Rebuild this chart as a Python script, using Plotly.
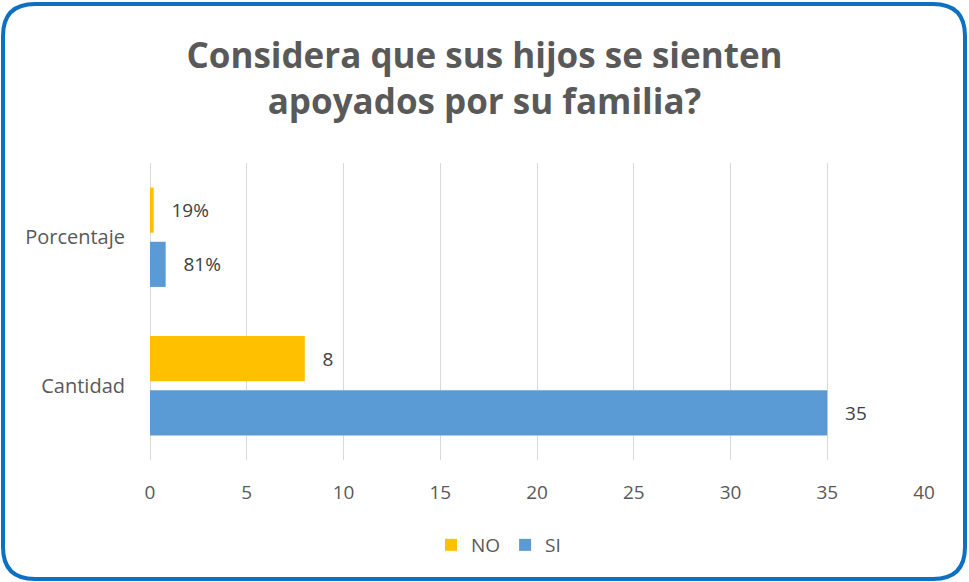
import plotly.graph_objects as go

categories = ["Cantidad", "Porcentaje"]
si_values = [35, 0.81]
no_values = [8, 0.19]
si_labels = ["35", "81%"]
no_labels = ["8", "19%"]
x_ticks = [0, 5, 10, 15, 20, 25, 30, 35, 40]

FONT = "Open Sans"
L, R, T, B = 150, 45, 163, 122
W, H = 969, 582
PW, PH = W - L - R, H - T - B

def px(x):
    return (x - L) / PW

def py(y):
    return (H - B - y) / PH

PAD = "   "

fig = go.Figure()
fig.add_trace(go.Bar(
    y=categories, x=si_values, orientation="h", name="SI",
    marker=dict(color="#5B9BD5", line=dict(width=0)),
    text=[PAD + s for s in si_labels], textposition="outside",
    textfont=dict(size=19, color="#404040", family=FONT),
    cliponaxis=False,
))
fig.add_trace(go.Bar(
    y=categories, x=no_values, orientation="h", name="NO",
    marker=dict(color="#FFC000", line=dict(width=0)),
    text=[PAD + s for s in no_labels], textposition="outside",
    textfont=dict(size=19, color="#404040", family=FONT),
    cliponaxis=False,
))

# rounded border
x0, x1, y0, y1, r = 3, 965, 4, 579, 32
path = (f"M {px(x0 + r)},{py(y0)} L {px(x1 - r)},{py(y0)} "
        f"Q {px(x1)},{py(y0)} {px(x1)},{py(y0 + r)} "
        f"L {px(x1)},{py(y1 - r)} Q {px(x1)},{py(y1)} {px(x1 - r)},{py(y1)} "
        f"L {px(x0 + r)},{py(y1)} Q {px(x0)},{py(y1)} {px(x0)},{py(y1 - r)} "
        f"L {px(x0)},{py(y0 + r)} Q {px(x0)},{py(y0)} {px(x0 + r)},{py(y0)} Z")

fig.update_layout(
    width=W, height=H,
    margin=dict(l=L, r=R, t=T, b=B),
    paper_bgcolor="white", plot_bgcolor="white",
    barmode="group", bargap=0.27, bargroupgap=0.167,
    title=dict(
        text="Considera que sus hijos se sienten<br>apoyados por su familia?",
        x=0.5, xanchor="center", y=1 - 68 / H, yanchor="middle",
        font=dict(family=FONT, size=35, color="#595959", weight="bold"),
    ),
    xaxis=dict(
        range=[0, 40], tickvals=x_ticks, showgrid=True, gridcolor="#D9D9D9",
        gridwidth=1, zeroline=True, zerolinecolor="#D9D9D9", zerolinewidth=1,
        ticks="outside", ticklen=15, tickcolor="rgba(0,0,0,0)",
        tickfont=dict(family=FONT, size=19, color="#595959"),
        showline=False, fixedrange=True,
    ),
    yaxis=dict(
        ticks="outside", ticklen=20, tickcolor="rgba(0,0,0,0)",
        tickfont=dict(family=FONT, size=20, color="#595959"),
        showgrid=False, showline=False,
    ),
    legend=dict(
        orientation="h", x=px(431), xanchor="left", y=py(545), yanchor="middle",
        traceorder="reversed", font=dict(family=FONT, size=19, color="#595959"),
        itemwidth=30,
    ),
    shapes=[dict(type="path", xref="paper", yref="paper", path=path,
                 line=dict(color="#0E70C0", width=4), fillcolor="rgba(0,0,0,0)",
                 layer="above")],
)

fig.write_html("out.html", config={"displayModeBar": False},
               post_script="document.body.style.margin='0';")
